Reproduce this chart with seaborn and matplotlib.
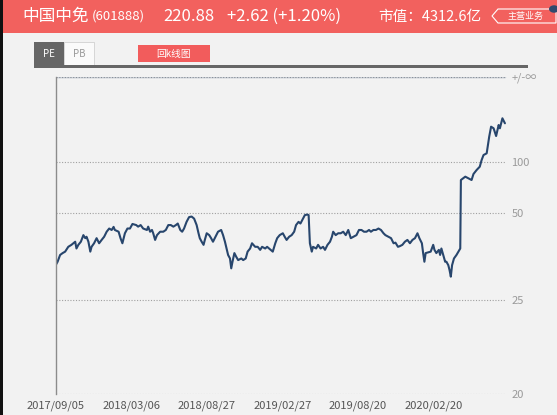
import numpy as np
import pandas as pd
import matplotlib
matplotlib.use("Agg")
import matplotlib.pyplot as plt
import seaborn as sns
from matplotlib.patches import Rectangle, Polygon, Circle

# ---------------- data ----------------
days = [0, 3, 7, 11, 15, 20, 25, 28, 31, 33, 36, 40, 44, 47, 49, 52, 55, 57, 61, 65,
        69, 73, 77, 81, 85, 89, 92, 94, 100, 103, 106, 110, 114, 118, 122, 128, 131, 135, 139, 145,
        147, 150, 153, 155, 158, 161, 166, 171, 175, 179, 183, 187, 191, 194, 198, 201, 204, 208, 212, 216,
        220, 224, 227, 229, 232, 235, 237, 240, 244, 247, 250, 254, 258, 263, 266, 269, 272, 274, 277, 279,
        281, 284, 287, 290, 295, 298, 302, 305, 309, 312, 317, 321, 325, 328, 333, 336, 341, 345, 349, 352,
        356, 361, 364, 367, 371, 375, 379, 382, 386, 389, 393, 396, 400, 402, 404, 407, 409, 414, 417, 421,
        425, 428, 432, 436, 439, 441, 445, 449, 453, 457, 461, 465, 469, 473, 478, 482, 486, 490, 494, 498,
        501, 505, 509, 513, 517, 521, 524, 529, 533, 537, 540, 544, 547, 551, 555, 559, 563, 567, 571, 575,
        578, 582, 584, 586, 588, 592, 596, 600, 602, 605, 609, 611, 613, 616, 619, 621, 624, 626, 628, 630,
        633, 637, 640, 643, 644, 651, 656, 661, 664, 669, 674, 677, 680, 685, 689, 692, 696, 700, 704, 706,
        710, 714]
pe = [31.3, 32.1, 33.8, 34.3, 34.7, 36.1, 36.7, 37.2, 37.7, 35.6, 36.7, 37.7, 40.0, 38.9, 39.4, 37.7, 34.7, 36.1, 37.2, 38.9,
      37.2, 38.3, 39.4, 41.3, 42.6, 42.0, 43.3, 42.0, 41.3, 38.9, 37.2, 40.7, 42.6, 42.6, 44.6, 44.1, 43.4, 44.1, 42.6, 42.0,
      43.4, 41.3, 42.0, 40.7, 38.3, 40.0, 41.3, 41.3, 42.0, 44.1, 44.1, 43.4, 44.1, 44.8, 42.0, 41.3, 42.6, 45.6, 48.0, 48.3,
      47.2, 44.1, 40.7, 38.9, 37.7, 36.7, 38.3, 40.7, 40.0, 38.9, 37.7, 39.4, 41.3, 42.0, 40.0, 37.7, 35.2, 33.8, 32.9, 30.6,
      32.1, 34.3, 33.3, 32.5, 32.9, 32.5, 32.9, 34.7, 35.6, 37.2, 36.1, 36.1, 35.2, 36.1, 35.6, 36.1, 35.3, 34.7, 37.2, 38.9,
      40.0, 40.7, 39.4, 38.3, 39.4, 40.0, 41.3, 44.1, 45.6, 44.8, 47.2, 49.1, 49.4, 49.1, 37.2, 34.7, 36.1, 35.6, 36.7, 35.6,
      36.1, 35.2, 36.7, 37.7, 39.4, 41.3, 40.0, 40.7, 40.7, 41.3, 40.0, 42.0, 38.9, 39.4, 40.0, 42.0, 42.0, 41.3, 41.3, 42.0,
      41.3, 42.0, 42.0, 42.6, 42.0, 40.7, 40.0, 39.4, 38.9, 37.2, 37.4, 36.1, 36.3, 36.7, 37.7, 38.3, 37.2, 38.3, 38.9, 40.7,
      38.9, 37.2, 34.3, 32.1, 34.3, 34.5, 34.7, 36.7, 35.2, 34.3, 35.2, 33.8, 35.6, 33.8, 32.1, 32.1, 31.3, 30.2, 28.9, 31.3,
      32.9, 33.8, 34.7, 35.6, 74.3, 78.1, 76.2, 74.3, 81.4, 86.9, 92.1, 102.8, 109.3, 111.7, 142.7, 171.2, 165.9, 144.3, 177.2, 165.9,
      205.8, 183.7]

x_tick_days = [0, 120, 240, 360, 480, 600]
x_tick_labels = ["2017/09/05", "2018/03/06", "2018/08/27", "2019/02/27", "2019/08/20", "2020/02/20"]
y_tick_values = [20, 25, 50, 100, 1e12]
y_tick_labels = ["20", "25", "50", "100", "+/-∞"]

# custom PE axis: piecewise in earnings yield (1/PE), as in the source chart
scale_u = [0.0, 0.01, 0.02, 0.04, 0.05]
scale_pos = [317.3, 231.7, 180.5, 94.0, 0.0]

def fwd(v):
    v = np.asarray(v, dtype=float)
    with np.errstate(divide="ignore", invalid="ignore"):
        u = np.where(v > 0, 1.0 / np.where(v > 0, v, 1.0), 0.05)
    return np.interp(u, scale_u, scale_pos)

def inv(p):
    p = np.asarray(p, dtype=float)
    u = np.interp(p, scale_pos[::-1], scale_u[::-1])
    with np.errstate(divide="ignore", invalid="ignore"):
        return np.where(u > 0, 1.0 / np.where(u > 0, u, 1.0), 1e12)

# ---------------- figure ----------------
sns.set_style("white")
CJK = ["Noto Sans CJK SC", "DejaVu Sans"]
plt.rcParams["font.family"] = CJK

W, H = 557, 415
BG = "#F2F2F2"
fig = plt.figure(figsize=(W / 100, H / 100), dpi=100, facecolor=BG)

def fx(x):
    return x / W

def fy(y):
    return 1 - y / H

def rect(x0, y0, x1, y1, **kw):
    fig.patches.append(Rectangle((fx(x0), fy(y1)), fx(x1) - fx(x0), fy(y0) - fy(y1),
                                 transform=fig.transFigure, **kw))

# header
rect(0, 0, W, 33, facecolor="#F2615E", edgecolor="none")
rect(0, 0, 2.5, H, facecolor="#111111", edgecolor="none")
hy = fy(16.5)
fig.text(fx(22), hy, "中国中免", color="white", fontsize=12, va="center", ha="left")
fig.text(fx(92), hy, "(601888)", color="white", fontsize=9.5, va="center", ha="left")
fig.text(fx(163), hy, "220.88", color="white", fontsize=12, va="center", ha="left")
fig.text(fx(227), hy, "+2.62 (+1.20%)", color="white", fontsize=12, va="center", ha="left")
fig.text(fx(378), hy, "市值：4312.6亿", color="white", fontsize=10.5, va="center", ha="left")
fig.patches.append(Polygon([(fx(492), fy(16)), (fx(498), fy(9)), (fx(556), fy(9)),
                            (fx(556), fy(23)), (fx(498), fy(23))], closed=True,
                           transform=fig.transFigure, facecolor="none", edgecolor="white", linewidth=0.8))
fig.text(fx(525), fy(16), "主营业务", color="white", fontsize=6.5, va="center", ha="center")
fig.patches.append(Circle((fx(554), fy(9)), 5 / W, transform=fig.transFigure,
                          facecolor="#2E4A6E", edgecolor="none"))

# tabs
rect(34, 42, 64, 65, facecolor="#666666", edgecolor="none")
fig.text(fx(49), fy(54), "PE", color="white", fontsize=7, va="center", ha="center")
rect(64, 42, 94, 65, facecolor="#FAFAFA", edgecolor="#D0D0D0", linewidth=0.6)
fig.text(fx(79), fy(54), "PB", color="#9A9A9A", fontsize=7, va="center", ha="center")
rect(138, 45, 210, 62, facecolor="#F25C5C", edgecolor="none")
fig.text(fx(174), fy(53.5), "回k线图", color="white", fontsize=7, va="center", ha="center")
rect(34, 65, 528, 68.5, facecolor="#666666", edgecolor="none")

# plot axes
ax_left, ax_right, ax_top, ax_bottom = 55.7, 506, 76.7, 394
ax = fig.add_axes([fx(ax_left), fy(ax_bottom), fx(ax_right) - fx(ax_left), fy(ax_top) - fy(ax_bottom)])
ax.set_facecolor(BG)

df = pd.DataFrame({"day": days, "pe": pe})
ax.set_yscale("function", functions=(fwd, inv))
sns.lineplot(data=df, x="day", y="pe", ax=ax, color="#28466D", linewidth=1.5, sort=False)

ax.set_xlim(0, 715.7)
ax.set_ylim(20, 1e12)
ax.set_xticks(x_tick_days, x_tick_labels)
ax.set_yticks(y_tick_values, y_tick_labels)
ax.yaxis.set_minor_locator(matplotlib.ticker.NullLocator())
ax.yaxis.tick_right()
ax.tick_params(axis="y", length=0, pad=4, labelsize=8, labelcolor="#9A9A9A")
ax.tick_params(axis="x", length=0, pad=4.5, labelsize=8, labelcolor="#555555")
ax.set_xlabel("")
ax.set_ylabel("")
ax.grid(axis="y", linestyle=(0, (1, 1.5)), color="#A0A0A0", linewidth=0.8)
ax.grid(axis="x", visible=False)
for s in ["top", "right", "bottom"]:
    ax.spines[s].set_visible(False)
ax.spines["left"].set_color("#8C8C8C")
ax.spines["left"].set_linewidth(1.0)

fig.savefig("out.png", dpi=100, facecolor=BG)
